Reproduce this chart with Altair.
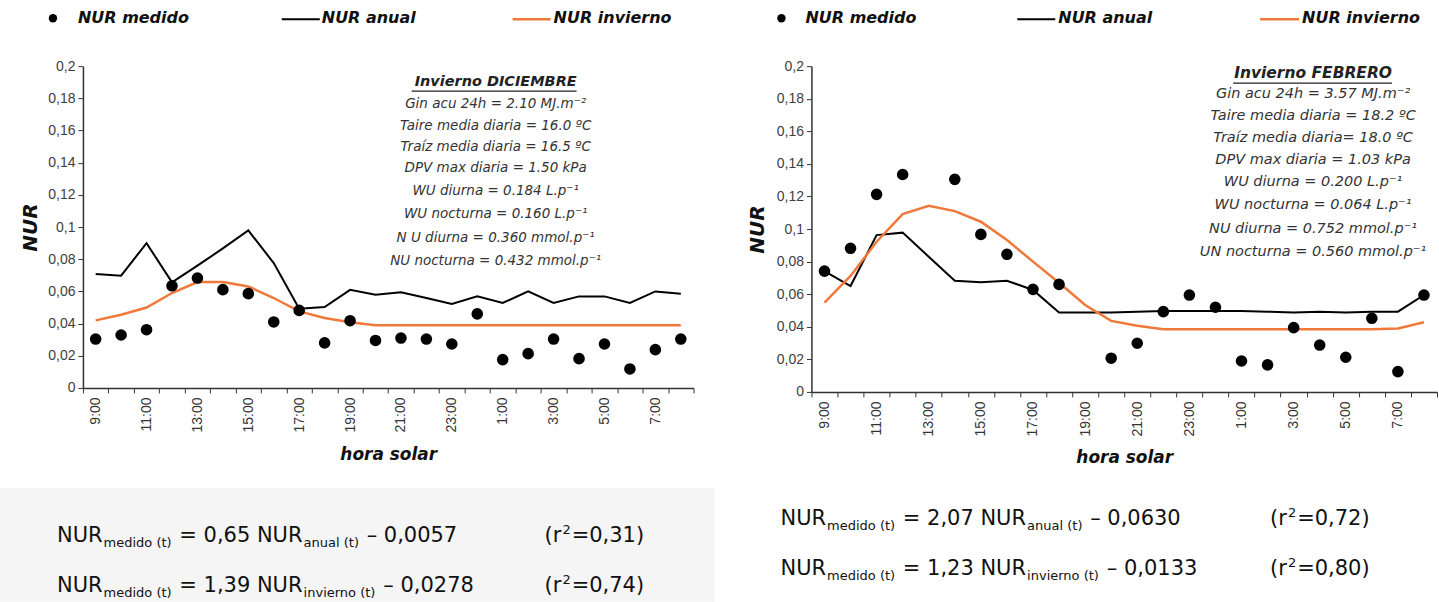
import altair as alt
import pandas as pd

hours = ["9:00", "10:00", "11:00", "12:00", "13:00", "14:00", "15:00", "16:00",
         "17:00", "18:00", "19:00", "20:00", "21:00", "22:00", "23:00", "0:00",
         "1:00", "2:00", "3:00", "4:00", "5:00", "6:00", "7:00", "8:00"]

# DICIEMBRE
dic_medido = [0.0304, 0.0329, 0.0362, 0.0635, 0.0683, 0.0611, 0.0586, 0.0410,
              0.0482, 0.0280, 0.0418, 0.0295, 0.0310, 0.0304, 0.0273, 0.0460,
              0.0176, 0.0213, 0.0304, 0.0182, 0.0273, 0.0118, 0.0238, 0.0304]
dic_anual = [0.0708, 0.0698, 0.0900, 0.0656, 0.0760, 0.0867, 0.0979, 0.0776,
             0.0492, 0.0503, 0.0610, 0.0580, 0.0594, 0.0559, 0.0522, 0.0569,
             0.0528, 0.0600, 0.0528, 0.0569, 0.0569, 0.0528, 0.0600, 0.0586]
dic_invierno = [0.0420, 0.0455, 0.0500, 0.0590, 0.0658, 0.0658, 0.0631, 0.0559,
                0.0476, 0.0435, 0.0408, 0.0390, 0.0390, 0.0390, 0.0390, 0.0390,
                0.0390, 0.0390, 0.0390, 0.0390, 0.0390, 0.0390, 0.0390, 0.0390]

# FEBRERO
feb_medido = [0.0742, 0.0882, 0.1213, 0.1335, None, 0.1305, 0.0967, 0.0845,
              0.0630, 0.0660, None, 0.0207, 0.0299, 0.0493, 0.0595, 0.0520,
              0.0190, 0.0166, 0.0395, 0.0288, 0.0213, 0.0452, 0.0125, 0.0595]
feb_anual = [0.0742, 0.0650, 0.0963, 0.0978, 0.0830, 0.0683, 0.0673, 0.0683,
             0.0626, 0.0487, 0.0488, 0.0488, 0.0493, 0.0497, 0.0497, 0.0497,
             0.0497, 0.0493, 0.0487, 0.0493, 0.0487, 0.0493, 0.0493, 0.0595]
feb_invierno = [0.0548, 0.0712, 0.0922, 0.1092, 0.1143, 0.1110, 0.1045, 0.0933,
                0.0800, 0.0670, 0.0534, 0.0436, 0.0407, 0.0385, 0.0385, 0.0385,
                0.0385, 0.0385, 0.0385, 0.0385, 0.0385, 0.0385, 0.0390, 0.0428]

y_ticks = [0, 0.02, 0.04, 0.06, 0.08, 0.1, 0.12, 0.14, 0.16, 0.18, 0.2]

dic_title = "Invierno DICIEMBRE"
dic_lines = ["Gin acu 24h = 2.10 MJ.m⁻²", "Taire media diaria  = 16.0 ºC",
             "Traíz media diaria = 16.5 ºC", "DPV max diaria = 1.50 kPa",
             "WU diurna = 0.184 L.p⁻¹", "WU nocturna = 0.160 L.p⁻¹",
             "N U diurna = 0.360 mmol.p⁻¹", "NU nocturna = 0.432 mmol.p⁻¹"]
feb_title = "Invierno FEBRERO"
feb_lines = ["Gin acu 24h = 3.57 MJ.m⁻²", "Taire media diaria  = 18.2 ºC",
             "Traíz media diaria= 18.0 ºC", "DPV max diaria = 1.03 kPa",
             "WU diurna = 0.200 L.p⁻¹", "WU nocturna = 0.064 L.p⁻¹",
             "NU diurna = 0.752 mmol.p⁻¹", "UN nocturna = 0.560 mmol.p⁻¹"]

dic_eqs = [("0,65", "anual", "0,0057", "0,31"), ("1,39", "invierno", "0,0278", "0,74")]
feb_eqs = [("2,07", "anual", "0,0630", "0,72"), ("1,23", "invierno", "0,0133", "0,80")]

legend_labels = ["NUR medido", "NUR anual", "NUR invierno"]

ORANGE = "#f0783a"
LEG_FONT = "DejaVu Sans"
EQ_FONT = "DejaVu Sans"

# approximate DejaVu Sans advance widths (em) used only to chain equation text pieces
W = {" ": 0.318, "(": 0.390, ")": 0.390, ",": 0.318, "–": 0.5, "=": 0.838, ".": 0.318,
     "N": 0.748, "U": 0.732, "R": 0.695, "a": 0.613, "d": 0.635, "e": 0.615, "i": 0.278,
     "l": 0.278, "m": 0.974, "n": 0.634, "o": 0.612, "r": 0.411, "t": 0.392, "u": 0.634,
     "v": 0.592}


def tw(s, size):
    return sum(W.get(c, 0.636) for c in s) * size


def one():
    return pd.DataFrame({"k": [0]})


def txt(s, x, y, size, font, weight="normal", style="normal", align="left",
        baseline="alphabetic", color="#000"):
    return alt.Chart(pd.DataFrame({"t": [s]})).mark_text(
        align=align, baseline=baseline, font=font, fontSize=size,
        fontWeight=weight, fontStyle=style, color=color
    ).encode(text="t:N", x=alt.value(x), y=alt.value(y))


def panel(medido, anual, invierno, title, lines, eqs, w, h, ox, oy, cfg):
    df = pd.DataFrame({"hora": hours, "medido": medido, "anual": anual,
                       "invierno": invierno})
    xenc = alt.X("hora:N", sort=hours,
                 scale=alt.Scale(paddingInner=0, paddingOuter=0),
                 axis=alt.Axis(title="hora solar", labelAngle=270, labelAlign="right",
                               labelBaseline="middle", tickBand="extent", tickSize=5,
                               labelPadding=4, labelFont="Liberation Sans", labelFontSize=14,
                               labelColor="#333", labelOverlap=False,
                               labelExpr="parseInt(split(datum.value, ':')[0]) % 2 == 1 ? datum.value : ''",
                               domainColor="#333", domainWidth=1.5, tickColor="#333",
                               titleFont=LEG_FONT, titleFontSize=17, titleFontWeight="bold",
                               titleFontStyle="italic", titleColor="#111",
                               titleBaseline="middle", titleY=cfg["xtitle_y"]))

    def yenc(field):
        return alt.Y(f"{field}:Q", scale=alt.Scale(domain=[0, 0.2], nice=False),
                     axis=alt.Axis(title="NUR", values=y_ticks, grid=False, tickSize=5,
                                   labelExpr="replace(format(datum.value, '~g'), '.', ',')",
                                   labelFont="Liberation Sans", labelFontSize=14,
                                   labelColor="#404040", labelPadding=3,
                                   domainColor="#333", domainWidth=1.5, tickColor="#333",
                                   titleFont=LEG_FONT, titleFontSize=20,
                                   titleFontWeight="bold", titleFontStyle="italic",
                                   titleColor="#111", titleAngle=270,
                                   titleBaseline="middle", titleX=cfg["ytitle_x"]))

    base = alt.Chart(df)
    layers = []
    # invisible frame fixing the panel's extent on the page
    layers.append(alt.Chart(one()).mark_rect(opacity=0).encode(
        x=alt.value(cfg["frame"][0] - ox), x2=alt.value(cfg["frame"][1] - ox),
        y=alt.value(0 - oy), y2=alt.value(602 - oy)))
    if cfg.get("gray"):
        g = cfg["gray"]
        layers.append(alt.Chart(one()).mark_rect(color="#f5f5f5").encode(
            x=alt.value(g[0] - ox), x2=alt.value(g[1] - ox),
            y=alt.value(g[2] - oy), y2=alt.value(g[3] - oy)))
    layers.append(base.mark_line(color="black", strokeWidth=2).encode(x=xenc, y=yenc("anual")))
    layers.append(base.mark_line(color=ORANGE, strokeWidth=2.5).encode(x=xenc, y=yenc("invierno")))
    layers.append(base.mark_circle(size=135, color="black", opacity=1).encode(x=xenc, y=yenc("medido")))

    # legend row
    ly = 18 - oy
    lg = cfg["legend"]
    layers.append(alt.Chart(one()).mark_circle(size=70, color="black", opacity=1).encode(
        x=alt.value(lg[0] - ox), y=alt.value(ly)))
    layers.append(alt.Chart(one()).mark_rule(color="black", strokeWidth=2).encode(
        x=alt.value(lg[2] - ox), x2=alt.value(lg[3] - ox), y=alt.value(ly + 1)))
    layers.append(alt.Chart(one()).mark_rule(color=ORANGE, strokeWidth=2.5).encode(
        x=alt.value(lg[5] - ox), x2=alt.value(lg[6] - ox), y=alt.value(ly + 1)))
    for s, xx in zip(legend_labels, [lg[1], lg[4], lg[7]]):
        layers.append(txt(s, xx - ox, ly, 16, LEG_FONT, "bold", "italic",
                          baseline="middle", color="#111"))

    # annotation block
    cx = cfg["annot_cx"] - ox
    layers.append(txt(title, cx, cfg["title_y"] - oy, cfg["title_size"], LEG_FONT, "bold",
                      "italic", align="center", baseline="middle", color="#222"))
    ul = cfg["underline"]
    layers.append(alt.Chart(one()).mark_rule(color="#222", strokeWidth=1.2).encode(
        x=alt.value(ul[0] - ox), x2=alt.value(ul[1] - ox), y=alt.value(ul[2] - oy)))
    for s, yy in zip(lines, cfg["line_ys"]):
        layers.append(txt(s, cx, yy - oy, cfg["annot_size"], LEG_FONT, "normal", "italic",
                          align="center", baseline="middle", color="#333"))

    # regression equations (pieces chained left to right; leading spaces become offsets)
    M, S = 21, 13
    for (coef, sub, inter, r2), yb in zip(eqs, cfg["eq_ys"]):
        x = cfg["eq_x"]
        pieces = [("NUR", M, 0), ("medido (t)", S, 5), (f" = {coef} NUR", M, 0),
                  (f"{sub} (t)", S, 5), (f" – {inter}", M, 0)]
        for s, size, dy in pieces:
            lead = len(s) - len(s.lstrip(" "))
            x += tw(" " * lead, size)
            s = s.lstrip(" ")
            layers.append(txt(s, x - ox, yb + dy - oy, size, EQ_FONT, color="#111"))
            x += tw(s, size) + 1
        x = cfg["r2_x"]
        for s, size, dy in [("(r", M, 0), ("2", S, -8), (f"={r2})", M, 0)]:
            layers.append(txt(s, x - ox, yb + dy - oy, size, EQ_FONT, color="#111"))
            x += tw(s, size) + 1

    return alt.layer(*layers).properties(width=w, height=h)


left_cfg = dict(frame=(0, 719.5), gray=(0, 715, 488, 602), xtitle_y=67, ytitle_x=-52,
                legend=(53, 78, 282, 320, 322, 513, 551, 554),
                annot_cx=496, title_y=82, title_size=14.5, underline=(412, 577, 91),
                line_ys=[104, 126, 147, 168, 191, 214, 238, 261], annot_size=13.5,
                eq_x=57, r2_x=545, eq_ys=[542, 592])
right_cfg = dict(frame=(719.5, 1439), xtitle_y=66, ytitle_x=-54,
                 legend=(781, 805, 1017, 1055, 1058, 1260, 1299, 1302),
                 annot_cx=1313, title_y=73, title_size=15.5, underline=(1233, 1392, 83),
                 line_ys=[94, 116, 138, 160, 182, 205, 229, 252], annot_size=14.5,
                 eq_x=780, r2_x=1270, eq_ys=[525, 575])

left = panel(dic_medido, dic_anual, dic_invierno, dic_title, dic_lines, dic_eqs,
             611, 322, 83, 66, left_cfg)
right = panel(feb_medido, feb_anual, feb_invierno, feb_title, feb_lines, feb_eqs,
              626, 326, 811, 66, right_cfg)

chart = alt.hconcat(left, right, spacing=0).properties(
    padding=0, background="white"
).configure_view(stroke=None)

chart.save("out.html", embed_options={"renderer": "svg", "actions": False})
